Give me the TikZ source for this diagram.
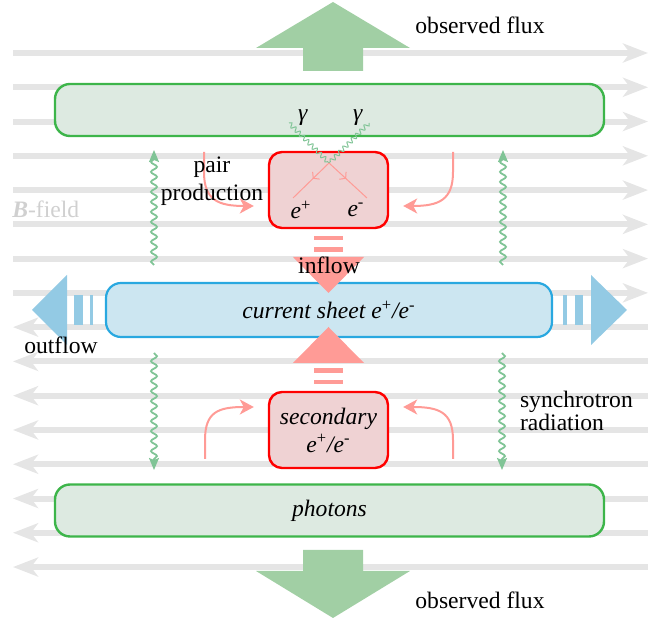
\documentclass[tikz,border=0pt]{standalone}
\usepackage{fontspec}
\setmainfont{Liberation Serif}
\usetikzlibrary{arrows.meta,decorations.pathmorphing,decorations.markings}

\definecolor{fieldgray}{RGB}{229,229,229}
\definecolor{labelgray}{RGB}{208,208,208}
\definecolor{photonfill}{RGB}{221,234,225}
\definecolor{photonline}{RGB}{61,181,74}
\definecolor{fluxgreen}{RGB}{161,207,164}
\definecolor{wavegreen}{RGB}{128,196,150}
\definecolor{pairfill}{RGB}{239,210,211}
\definecolor{pairline}{RGB}{255,0,0}
\definecolor{salmon}{RGB}{255,155,150}
\definecolor{sheetfill}{RGB}{204,230,241}
\definecolor{sheetline}{RGB}{41,168,224}
\definecolor{outblue}{RGB}{147,202,228}

\begin{document}
\begin{tikzpicture}[x=0.5pt, y=-0.5pt, font=\rmfamily\fontsize{11.8}{14}\selectfont,
    field line/.style={draw=fieldgray, line width=3pt, -{Stealth[length=12.5pt,width=9.5pt,inset=3.5pt]}},
    photon box/.style={draw=photonline, fill=photonfill, line width=1.2pt, rounded corners=7.5pt,
                       minimum width=274.5pt, minimum height=26pt},
    pair box/.style={draw=pairline, fill=pairfill, line width=1.2pt, rounded corners=6.5pt,
                     minimum width=59.5pt, minimum height=38pt, align=center},
    sheet box/.style={draw=sheetline, fill=sheetfill, line width=1.1pt, rounded corners=7.5pt,
                      minimum width=223pt, minimum height=27pt},
    sync wave/.style={draw=wavegreen, line width=0.9pt, decorate,
                      decoration={snake, amplitude=1.5pt, segment length=5pt, post length=4pt},
                      -{Stealth[length=6pt,width=5pt,inset=1pt]}},
    gamma wave/.style={draw=wavegreen, line width=0.5pt, decorate,
                       decoration={snake, amplitude=1.1pt, segment length=3pt}},
    lepton/.style={draw=salmon, line width=0.5pt, postaction={decorate},
                   decoration={markings, mark=at position 0.45 with {\arrow{Straight Barb[length=2pt,width=5pt]}}}},
    feed/.style={draw=salmon, line width=1pt, -{Stealth[length=7pt,width=7.5pt,inset=2pt]}}]

  \useasboundingbox (0,0) rectangle (660,624);

  % field lines, upper half to the right, lower half to the left
  \foreach \i in {0,...,7}
    \draw[field line] (13,{53+34.27*\i}) -- (648,{53+34.27*\i});
  \foreach \i in {8,...,15}
    \draw[field line] (648,{53+34.27*\i}) -- (13,{53+34.27*\i});

  % observed flux arrows
  \fill[fluxgreen] (303,71) -- (303,48) -- (256,48) -- (333,2) -- (410,48) -- (363,48) -- (363,71) -- cycle;
  \fill[fluxgreen] (303,550) -- (303,571) -- (256,571) -- (333,618) -- (410,571) -- (363,571) -- (363,550) -- cycle;

  \node[photon box] (top) at (329.5,110) {};
  \node[photon box] (photons) at (329.5,510.5) {\textit{photons}};
  \node[sheet box] (sheet) at (329,310) {\textit{current sheet e}\textsuperscript{+}\textit{/e}\textsuperscript{-}};
  \node[pair box] (pair) at (328.5,190) {};
  \node[pair box] (secondary) at (328.5,430) {\textit{secondary}\\\textit{e}\textsuperscript{+}\textit{/e}\textsuperscript{-}};

  % pair production vertex
  \node (gl) at (303,118) {\textit{γ}};
  \node (gr) at (358,118) {\textit{γ}};
  \node (ep) at (301,210) {\textit{e}\textsuperscript{+}};
  \node (em) at (356,210) {\textit{e}\textsuperscript{-}};
  \coordinate (vx) at (329,163);
  \coordinate (g1) at (289,123);
  \coordinate (g2) at (369,123);
  \coordinate (l1) at (293,198);
  \coordinate (l2) at (367,198);
  \draw[gamma wave] (g1) -- (vx);
  \draw[gamma wave] (g2) -- (vx);
  \draw[lepton] (vx) -- (l1);
  \draw[lepton] (vx) -- (l2);

  % synchrotron photons
  \coordinate (s1) at (154,265);  \coordinate (t1) at (154,150);
  \coordinate (s2) at (503,265);  \coordinate (t2) at (503,150);
  \coordinate (s3) at (154,353);  \coordinate (t3) at (154,470);
  \coordinate (s4) at (502,353);  \coordinate (t4) at (502,470);
  \draw[sync wave] (s1) -- (t1);
  \draw[sync wave] (s2) -- (t2);
  \draw[sync wave] (s3) -- (t3);
  \draw[sync wave] (s4) -- (t4);

  % inflow
  \fill[salmon] (314,236) rectangle (343,240);
  \fill[salmon] (314,247) rectangle (343,252);
  \fill[salmon] (293,257) -- (364,257) -- (328.5,293) -- cycle;
  \fill[salmon] (314,368) rectangle (343,373);
  \fill[salmon] (314,380) rectangle (343,384);
  \fill[salmon] (293,363) -- (364,363) -- (328.5,327) -- cycle;

  % outflow
  \fill[outblue] (32,310) -- (67,275) -- (67,345) -- cycle;
  \fill[outblue] (74,295) rectangle (83,325);
  \fill[outblue] (90,295) rectangle (93,325);
  \fill[outblue] (563,295) rectangle (567,325);
  \fill[outblue] (575,295) rectangle (583,325);
  \fill[outblue] (627,310) -- (591,275) -- (591,345) -- cycle;

  % particles fed into the boxes
  \coordinate (f1) at (204,152);
  \coordinate (f2) at (453,152);
  \coordinate (f3) at (205,459);
  \coordinate (f4) at (453,459);
  \draw[feed] (f1) -- (204,172) .. controls (204,200) and (218,206) .. ([xshift=-7pt,yshift=-8pt]pair.west);
  \draw[feed] (f2) -- (453,172) .. controls (453,200) and (439,206) .. ([xshift=7pt,yshift=-8pt]pair.east);
  \draw[feed] (f3) -- (205,440) .. controls (205,412) and (218,407) .. ([xshift=-7pt,yshift=11.5pt]secondary.west);
  \draw[feed] (f4) -- (453,440) .. controls (453,412) and (439,407) .. ([xshift=7pt,yshift=11.5pt]secondary.east);

  % labels
  \node (fluxtop) at (480,25) {observed flux};
  \node (fluxbot) at (480,600) {observed flux};
  \node[align=center] (pp) at (212,181) {pair\\production};
  \node[anchor=west, align=left, font=\rmfamily\fontsize{11.8}{11.5}\selectfont] (sync) at (513,411) {synchrotron\\radiation};
  \node (inflow) at (329,265) {inflow};
  \node (outflow) at (61,345) {outflow};
  \node[text=labelgray, anchor=west, inner sep=0pt] (bfield) at (12,209) {\textbf{\textit{B}}-field};

\end{tikzpicture}
\end{document}
